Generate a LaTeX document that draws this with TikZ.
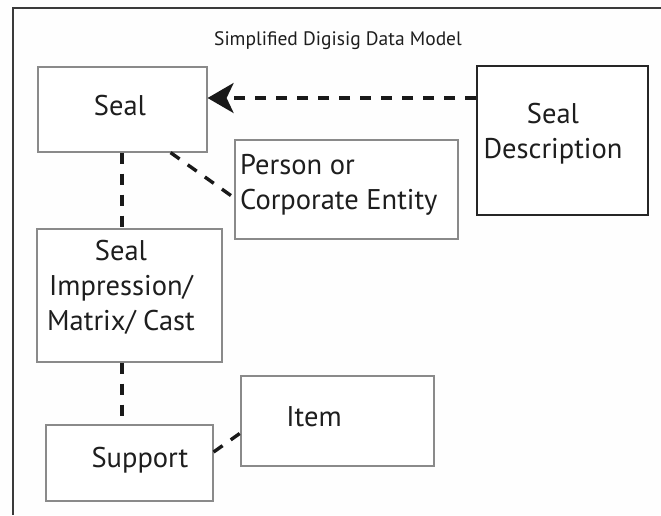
\documentclass[tikz,border=0pt]{standalone}
\usepackage{fontspec}
\setmainfont{PT Sans}
\usetikzlibrary{arrows.meta,calc}
\definecolor{boxgray}{HTML}{8A8A8A}
\definecolor{framegray}{HTML}{3A3A3A}
\definecolor{txt}{HTML}{1E1E1E}
\tikzset{
  box/.style={draw=boxgray, line width=1.2pt, fill=white, inner sep=0pt},
  darkbox/.style={draw=black!85, line width=1.8pt, fill=white, inner sep=0pt},
  lbl/.style={text=txt, font=\fontsize{28.5}{35}\selectfont, inner sep=0pt},
  link/.style={line width=3.4pt, dash pattern=on 11pt off 10pt, black!90},
  frameline/.style={draw=framegray, line width=2pt}
}
\begin{document}
\begin{tikzpicture}[x=1pt,y=-1pt]
\useasboundingbox (0,0) rectangle (661,515);
\fill[white!99!gray] (0,0) rectangle (661,515);
\draw[frameline] (661,8) -- (13,8) -- (13,515);

\node[text=txt, font=\fontsize{19.5}{24}\selectfont, inner sep=0pt] (title) at (338,41) {Simplified Digisig Data Model};

% boxes
\node[box, minimum width=169pt, minimum height=85pt] (seal) at (122.5,109.5) {};
\node[lbl] (seal-t) at (120,106) {Seal};

\node[darkbox, minimum width=171pt, minimum height=149pt] (desc) at (562.5,140.5) {};
\node[lbl, align=center] (desc-t) at (553,134) {Seal\\Description};

\node[box, minimum width=223pt, minimum height=99pt] (person) at (346.5,189.5) {};
\node[lbl, align=left, anchor=west] (person-t) at (240,185) {Person or\\Corporate Entity};

\node[box, minimum width=185pt, minimum height=133pt] (imp) at (129.5,295.5) {};
\node[lbl, align=center] (imp-t) at (121,287) {Seal\\Impression/\\Matrix/ Cast};

\node[box, minimum width=193pt, minimum height=90pt] (item) at (337.5,421) {};
\node[lbl] (item-t) at (314,417) {Item};

\node[box, minimum width=167pt, minimum height=76pt] (support) at (129.5,463) {};
\node[lbl] (support-t) at (140,460) {Support};

% connectors
\draw[link, -{Stealth[length=26pt, width=30pt, inset=7pt]}] (desc.west |- 0,98) -- (seal.east |- 0,98);
\draw[link] (seal.south -| 122,0) -- (imp.north -| 122,0);
\draw[link] ($(seal.south east)+(-37,0)$) -- (person.west |- 0,198);
\draw[link] (imp.south -| 122,0) -- (support.north -| 122,0);
\draw[link] (support.east |- 0,452) -- (item.west |- 0,433);
\end{tikzpicture}
\end{document}
